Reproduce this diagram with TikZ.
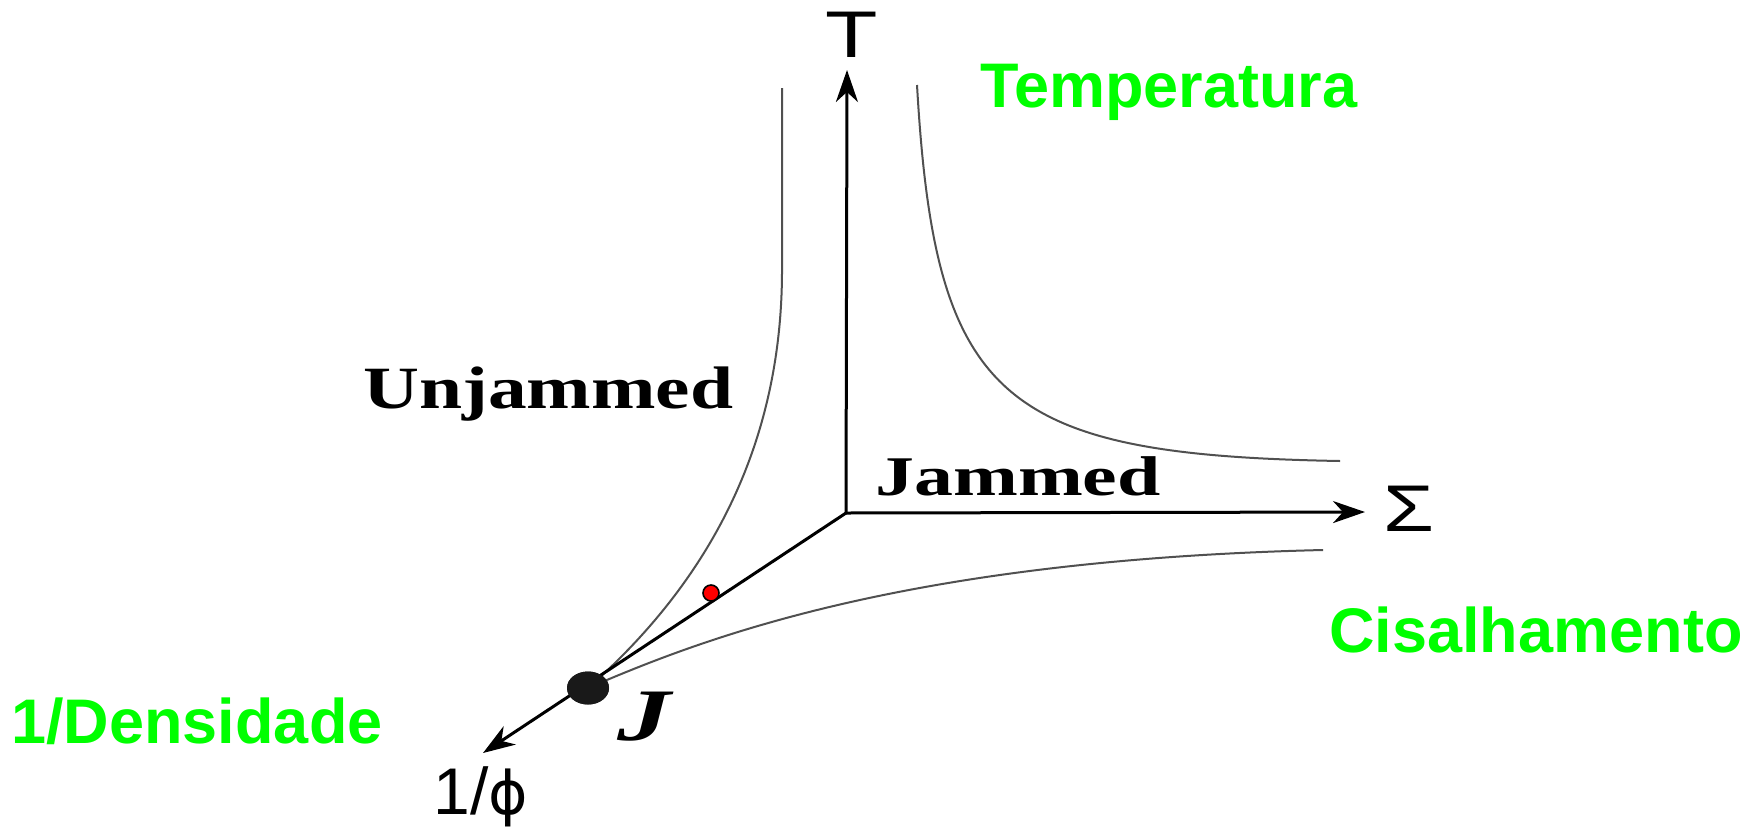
\documentclass[tikz,border=0pt]{standalone}
\usepackage{fontspec}
\setmainfont{Liberation Serif}
\newfontfamily\arialfont{Liberation Sans}
\newfontfamily\dejafont{DejaVu Sans}
\usetikzlibrary{arrows.meta,shapes.geometric}
\definecolor{lblgreen}{RGB}{0,255,0}
\definecolor{curvegrey}{RGB}{80,80,80}
\tikzset{
  axisline/.style={line width=1.5pt, black, -{Stealth[length=16pt,width=11pt,inset=5pt]}},
  curveline/.style={line width=1pt, curvegrey},
  greenlbl/.style={inner sep=0pt, text=lblgreen, font=\arialfont\bfseries\fontsize{31.5}{36}\selectfont},
  axislbl/.style={inner sep=0pt, font=\arialfont\fontsize{33}{38}\selectfont},
  phaselbl/.style={inner sep=0pt, font=\bfseries},
  jdot/.style={ellipse, fill=black!90, inner sep=0pt, minimum width=21pt, minimum height=16.5pt},
  reddot/.style={circle, fill=red, draw=black, line width=0.8pt, inner sep=0pt, minimum size=8pt}
}
\begin{document}
\begin{tikzpicture}[x=0.5pt,y=-0.5pt]
\useasboundingbox (0,0) rectangle (1764,830);
% axes
\coordinate (O) at (846,513);
\coordinate (Ttip) at (847,70);
\coordinate (Stip) at (1365,512);
\coordinate (Ptip) at (483,753);
\coordinate (LT) at (782,88);
\coordinate (RT) at (917,85);
\coordinate (RE) at (1340,461);
\coordinate (BE) at (1323,550);
\node[jdot] (J) at (588,688) {};
\draw[curveline] (LT) -- (782,270) .. controls (782,450) and (705,585) .. (J.center);
\draw[curveline] (RT) .. controls (935,400) and (1000,455) .. (RE);
\draw[curveline] (J.center) .. controls (700,640) and (900,560) .. (BE);
\draw[axisline] (O) -- (Ttip);
\draw[axisline] (O) -- (Stip);
\draw[axisline] (O) -- (Ptip);
\node[jdot] at (J) {};
\node[reddot] (R) at (711,593) {};
% axis labels
\node[axislbl, anchor=base] (Tl) at (852,57) {\scalebox{1.3}[1]{T}};
\node[axislbl, anchor=base] (Sl) at (1409,531) {\scalebox{1.25}[1]{Σ}};
\node[axislbl, anchor=base] (Pl) at (481,814) {1/{\dejafont\fontsize{30}{36}\selectfont ϕ}};
% phase labels
\node[phaselbl, anchor=base west, font=\bfseries\fontsize{30}{34}\selectfont] (U) at (363,408) {\scalebox{1.29}[1]{Unjammed}};
\node[phaselbl, anchor=base west, font=\bfseries\fontsize{28}{32}\selectfont] (Jm) at (875,495) {\scalebox{1.39}[1]{Jammed}};
\node[phaselbl, anchor=base west, font=\bfseries\itshape\fontsize{37}{40}\selectfont] (Jl) at (617,740) {\scalebox{1.45}[1]{J}};
% green labels
\node[greenlbl, anchor=base west] (Temp) at (980,107) {Temperatura};
\node[greenlbl, anchor=base west] (Cis) at (1329,652) {Cisalhamento};
\node[greenlbl, anchor=base west] (Dens) at (11,743) {1/Densidade};
\end{tikzpicture}
\end{document}
